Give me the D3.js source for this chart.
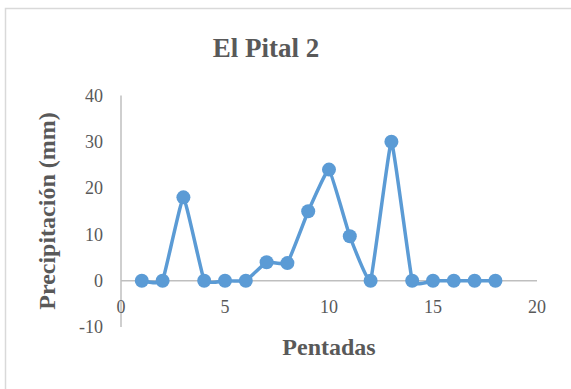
<!DOCTYPE html>
<html>
<head>
<meta charset="utf-8">
<script src="https://cdn.jsdelivr.net/npm/d3@7"></script>
<style>
  html, body { margin: 0; padding: 0; background: #fff; }
  svg { display: block; }
</style>
</head>
<body>
<svg id="chart" width="571" height="389"></svg>
<script>
// Precipitation per pentad, El Pital 2
const pentadas = [1, 2, 3, 4, 5, 6, 7, 8, 9, 10, 11, 12, 13, 14, 15, 16, 17, 18];
const precipitacion = [0, 0, 18, 0, 0, 0, 4, 3.8, 15, 24, 9.6, 0, 30, 0, 0, 0, 0, 0];
const xTicks = [0, 5, 10, 15, 20];
const yTicks = [-10, 0, 10, 20, 30, 40];

const serif = '"Liberation Serif", serif';
const textColor = "#595959";

const svg = d3.select("#chart");

// chart area frame
svg.append("rect")
  .attr("x", 5.5).attr("y", 8.5)
  .attr("width", 620).attr("height", 420)
  .attr("fill", "#fff")
  .attr("stroke", "#D9D9D9")
  .attr("stroke-width", 1.5);

const x = d3.scaleLinear().domain([0, 20]).range([121, 537]);
const y = d3.scaleLinear().domain([-10, 40]).range([327, 95.5]);

// vertical axis line
svg.append("line")
  .attr("x1", x(0)).attr("x2", x(0))
  .attr("y1", y(40)).attr("y2", y(-10))
  .attr("stroke", "#BFBFBF").attr("stroke-width", 1.5);

// horizontal axis line at zero
svg.append("line")
  .attr("x1", x(0)).attr("x2", x(20))
  .attr("y1", y(0)).attr("y2", y(0))
  .attr("stroke", "#BFBFBF").attr("stroke-width", 1.5);

// y tick labels
svg.append("g").selectAll("text")
  .data(yTicks)
  .join("text")
  .attr("x", 103)
  .attr("y", d => y(d))
  .attr("dy", "0.35em")
  .attr("text-anchor", "end")
  .style("font-family", serif)
  .attr("fill", textColor)
  .attr("font-size", 18)
  .text(d => d);

// x tick labels
svg.append("g").selectAll("text")
  .data(xTicks)
  .join("text")
  .attr("x", d => x(d))
  .attr("y", 313)
  .attr("text-anchor", "middle")
  .style("font-family", serif)
  .attr("fill", textColor)
  .attr("font-size", 18)
  .text(d => d);

// smoothed series line
const line = d3.line()
  .x((d, i) => x(pentadas[i]))
  .y(d => y(d))
  .curve(d3.curveCardinal.tension(0.7));

svg.append("path")
  .datum(precipitacion)
  .attr("d", line)
  .attr("fill", "none")
  .attr("stroke", "#5B9BD5")
  .attr("stroke-width", 3.5)
  .attr("stroke-linejoin", "round");

// markers
svg.append("g").selectAll("circle")
  .data(precipitacion)
  .join("circle")
  .attr("cx", (d, i) => x(pentadas[i]))
  .attr("cy", d => y(d))
  .attr("r", 7)
  .attr("fill", "#5B9BD5");

// titles
svg.append("text")
  .attr("x", 266).attr("y", 57)
  .attr("text-anchor", "middle")
  .style("font-family", serif)
  .attr("fill", textColor)
  .attr("font-size", 27)
  .attr("font-weight", "bold")
  .text("El Pital 2");

svg.append("text")
  .attr("x", 329).attr("y", 355)
  .attr("text-anchor", "middle")
  .style("font-family", serif)
  .attr("fill", textColor)
  .attr("font-size", 24)
  .attr("font-weight", "bold")
  .text("Pentadas");

svg.append("text")
  .attr("transform", "translate(55,211) rotate(-90)")
  .attr("text-anchor", "middle")
  .style("font-family", serif)
  .attr("fill", textColor)
  .attr("font-size", 24)
  .attr("font-weight", "bold")
  .text("Precipitación (mm)");
</script>
</body>
</html>
